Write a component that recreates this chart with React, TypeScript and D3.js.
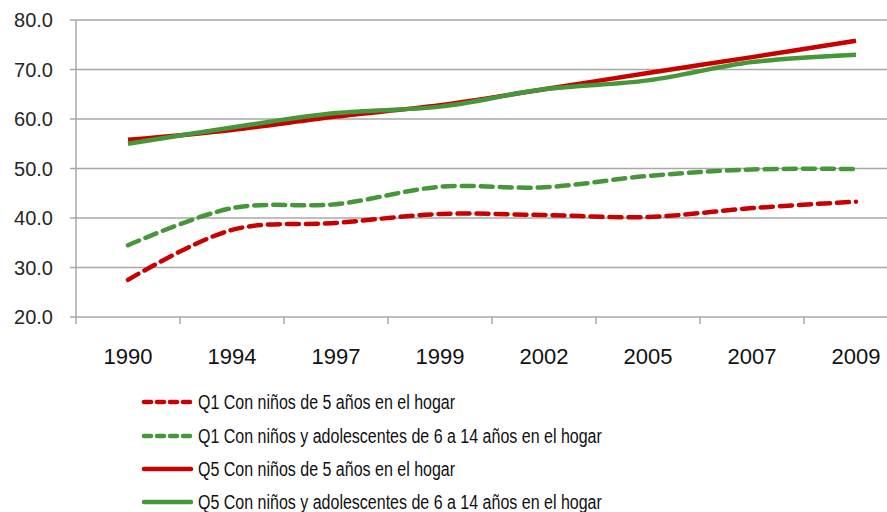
import React, { useEffect, useRef } from 'react';
import * as d3 from 'd3';

const years = ['1990', '1994', '1997', '1999', '2002', '2005', '2007', '2009'];
const q1Five = [27.5, 37.6, 39.0, 40.8, 40.6, 40.2, 42.0, 43.3];
const q1SixToFourteen = [34.5, 42.0, 42.8, 46.3, 46.2, 48.5, 49.8, 49.9];
const q5Five = [55.8, 57.8, 60.5, 62.8, 66.0, 69.3, 72.5, 75.8];
const q5SixToFourteen = [55.0, 58.3, 61.2, 62.5, 66.0, 67.8, 71.5, 73.0];
const yTicks = [20, 30, 40, 50, 60, 70, 80];

const RED = '#C80000';
const GREEN = '#46963A';

const series = [
    { name: 'Q1 Con niños de 5 años en el hogar', values: q1Five, color: RED, dashed: true },
    { name: 'Q1 Con niños y adolescentes de 6 a 14 años en el hogar', values: q1SixToFourteen, color: GREEN, dashed: true },
    { name: 'Q5 Con niños de 5 años en el hogar', values: q5Five, color: RED, dashed: false },
    { name: 'Q5 Con niños y adolescentes de 6 a 14 años en el hogar', values: q5SixToFourteen, color: GREEN, dashed: false }
];

const App = () => {
    const svgRef = useRef<SVGSVGElement>(null);

    useEffect(() => {
        const width = 887;
        const height = 512;
        const left = 76;
        const top = 20;
        const bottom = 317;

        const svg = d3.select(svgRef.current);
        svg.selectAll('*').remove();
        svg.attr('width', width).attr('height', height);

        const x = d3.scaleBand().domain(years).range([left, left + 8 * 104]);
        const y = d3.scaleLinear().domain([20, 80]).range([bottom, top]);

        const font = 'Arial, "Liberation Sans", sans-serif';

        // gridlines
        svg.append('g')
            .selectAll('line')
            .data(yTicks)
            .enter()
            .append('line')
            .attr('x1', left - 6)
            .attr('x2', width)
            .attr('y1', d => y(d))
            .attr('y2', d => y(d))
            .attr('stroke', '#A8A8A8')
            .attr('stroke-width', 1.5);

        // y axis line
        svg.append('line')
            .attr('x1', left).attr('x2', left)
            .attr('y1', top).attr('y2', bottom)
            .attr('stroke', '#A8A8A8').attr('stroke-width', 1.5);

        // x tick marks
        svg.append('g')
            .selectAll('line')
            .data(years)
            .enter()
            .append('line')
            .attr('x1', d => x(d) as number)
            .attr('x2', d => x(d) as number)
            .attr('y1', bottom)
            .attr('y2', bottom + 7)
            .attr('stroke', '#A8A8A8')
            .attr('stroke-width', 1.5);

        svg.append('g')
            .selectAll('text')
            .data(yTicks)
            .enter()
            .append('text')
            .attr('x', 53)
            .attr('y', d => y(d))
            .attr('dy', '0.35em')
            .attr('text-anchor', 'end')
            .style('font-family', font)
            .style('font-size', '20px')
            .style('fill', '#262626')
            .text(d => d.toFixed(1));

        svg.append('g')
            .selectAll('text')
            .data(years)
            .enter()
            .append('text')
            .attr('x', d => (x(d) as number) + x.bandwidth() / 2)
            .attr('y', 356)
            .attr('dy', '0.35em')
            .attr('text-anchor', 'middle')
            .style('font-family', font)
            .style('font-size', '22px')
            .style('fill', '#111')
            .text(d => d);

        const line = d3.line<number>()
            .x((_, i) => (x(years[i]) as number) + x.bandwidth() / 2)
            .y(d => y(d))
            .curve(d3.curveCatmullRom.alpha(0.5));

        svg.append('g')
            .selectAll('path')
            .data(series)
            .enter()
            .append('path')
            .attr('d', d => line(d.values))
            .attr('fill', 'none')
            .attr('stroke', d => d.color)
            .attr('stroke-width', 4.5)
            .attr('stroke-dasharray', d => (d.dashed ? '12 7' : null))
            .attr('stroke-linecap', d => (d.dashed ? 'round' : 'butt'));

        // legend
        const legendY = [402, 436, 469, 502];
        const legend = svg.append('g')
            .selectAll('g')
            .data(series)
            .enter()
            .append('g')
            .attr('transform', (_, i) => `translate(0, ${legendY[i]})`);

        legend.append('line')
            .attr('x1', 144)
            .attr('x2', 191)
            .attr('stroke', d => d.color)
            .attr('stroke-width', 4.5)
            .attr('stroke-dasharray', d => (d.dashed ? '7 6' : null))
            .attr('stroke-linecap', 'round');

        legend.append('text')
            .attr('transform', 'translate(198, 0) scale(0.8, 1)')
            .attr('dy', '0.35em')
            .style('font-family', font)
            .style('font-size', '20px')
            .style('fill', '#111')
            .text(d => d.name);
    }, []);

    return <svg ref={svgRef} style={{ position: 'absolute', left: 0, top: 0 }}></svg>;
};

export default App;
